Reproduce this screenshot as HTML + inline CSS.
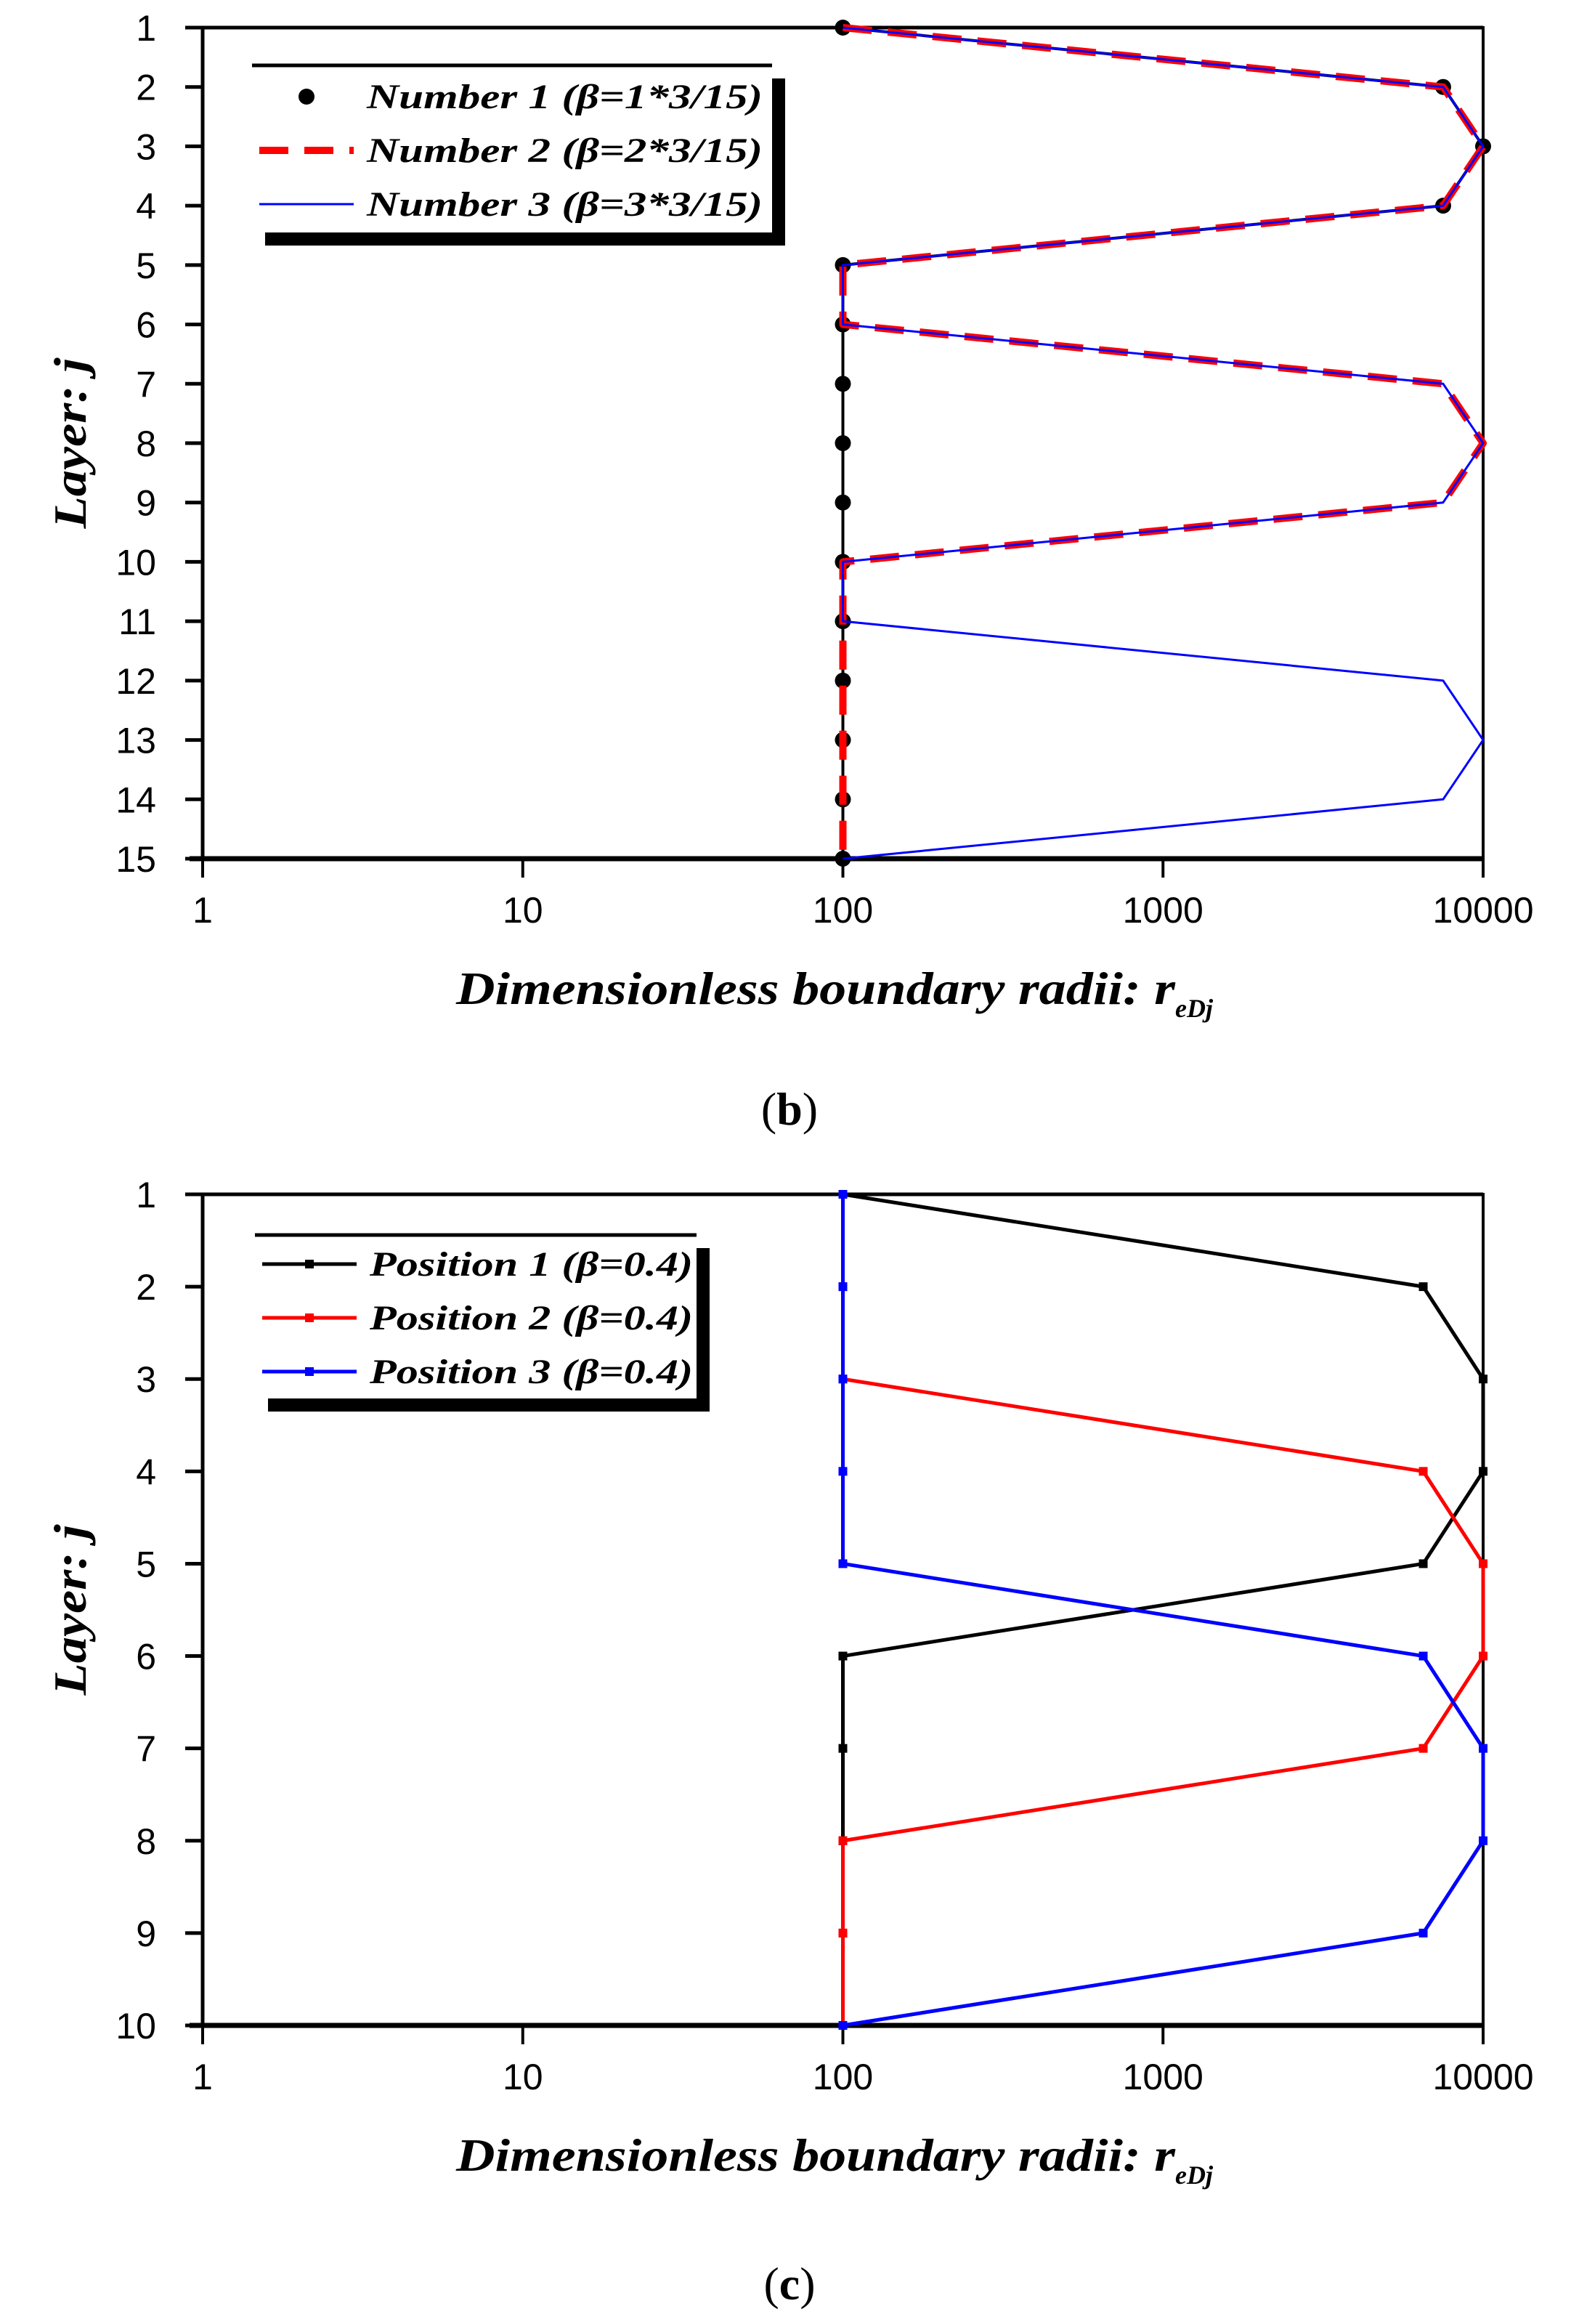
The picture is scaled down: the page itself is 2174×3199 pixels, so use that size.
<!DOCTYPE html>
<html><head><meta charset="utf-8"><style>
html,body{margin:0;padding:0;background:#fff}
svg{display:block}
text{font-family:"Liberation Sans",sans-serif}
.tk{font-size:50px;fill:#000}
.ttl{font-family:"Liberation Serif",serif;font-weight:bold;font-style:italic;font-size:64px}
.lg{font-family:"Liberation Serif",serif;font-weight:bold;font-style:italic;font-size:48px}
</style></head><body>
<svg id="fig" width="2174" height="3199" viewBox="0 0 2174 3199" xmlns="http://www.w3.org/2000/svg">
<g id="chartB"></g>
<g id="chartC"></g>
<text x="1087" y="1548" text-anchor="middle" style="font-family:'Liberation Serif',serif;font-size:64px">(<tspan font-weight="bold">b</tspan>)</text>
<text x="1087" y="3165" text-anchor="middle" style="font-family:'Liberation Serif',serif;font-size:64px">(<tspan font-weight="bold">c</tspan>)</text>
</svg>
<script>
// ---- data: chart (b)
const bLayers = [1,2,3,4,5,6,7,8,9,10,11,12,13,14,15];
const bNumber1 = [100,7500,10000,7500,100,100,100,100,100,100,100,100,100,100,100];
const bNumber2 = [100,7500,10000,7500,100,100,7500,10000,7500,100,100,100,100,100,100];
const bNumber3 = [100,7500,10000,7500,100,100,7500,10000,7500,100,100,7500,10000,7500,100];
const bLegend = ["Number 1 (β=1*3/15)","Number 2 (β=2*3/15)","Number 3 (β=3*3/15)"];
// ---- data: chart (c)
const cLayers = [1,2,3,4,5,6,7,8,9,10];
const cPosition1 = [100,6500,10000,10000,6500,100,100,100,100,100];
const cPosition2 = [100,100,100,6500,10000,10000,6500,100,100,100];
const cPosition3 = [100,100,100,100,100,6500,10000,10000,6500,100];
const cLegend = ["Position 1 (β=0.4)","Position 2 (β=0.4)","Position 3 (β=0.4)"];
const xTicks = [1,10,100,1000,10000];
const xTickLabels = ["1","10","100","1000","10000"];

const NS="http://www.w3.org/2000/svg";
function mk(tag,attrs,parent){const e=document.createElementNS(NS,tag);for(const k in attrs)e.setAttribute(k,attrs[k]);parent.appendChild(e);return e;}

function drawChart(g,cfg){
  const L=279,R=2042,T=cfg.top,B=cfg.bottom,n=cfg.layers.length;
  const xs=v=>L+(Math.log10(v)-0)/4*(R-L);
  const ys=l=>T+(l-1)/(n-1)*(B-T);
  const fr=mk('rect',{x:L,y:T,width:R-L,height:B-T,fill:'none',stroke:'#000','stroke-width':4},g);
  
  
  const ax=mk('line',{x1:L-18,y1:B,x2:R,y2:B,stroke:'#000','stroke-width':7},g);
  
  
  const ay=mk('line',{x1:L,y1:T,x2:L,y2:B,stroke:'#000','stroke-width':5},g);
  
  
  const at=mk('line',{x1:L-18,y1:T,x2:R,y2:T,stroke:'#000','stroke-width':5},g);
  
  
  cfg.layers.forEach(l=>{
    const y=ys(l);
    const t=mk('line',{x1:L-24,y1:y,x2:L,y2:y,stroke:'#000','stroke-width':5},g);
    
    
    const tx=mk('text',{x:215,y:y+18,'text-anchor':'end',class:'tk'},g);
    tx.textContent=String(l);
    
    
  });
  xTicks.forEach((v,i)=>{
    const x=xs(v);
    const t=mk('line',{x1:x,y1:B,x2:x,y2:B+26,stroke:'#000','stroke-width':4},g);
    
    
    const tx=mk('text',{x:x,y:B+88,'text-anchor':'middle',class:'tk'},g);
    tx.textContent=xTickLabels[i];
    
    
  });
  const xt=mk('text',{x:628,y:B+200,class:'ttl'},g);
  xt.innerHTML='<tspan textLength="990" lengthAdjust="spacingAndGlyphs">Dimensionless boundary radii: r</tspan><tspan font-size="36" dy="18">eDj</tspan>';
  
  
  const yc=(T+B)/2;
  const yt=mk('text',{x:0,y:0,'text-anchor':'middle',class:'ttl',transform:`translate(118,${yc}) rotate(-90)`,textLength:235,lengthAdjust:'spacingAndGlyphs'},g);
  yt.textContent='Layer: j';
  
  
  cfg.series.forEach(s=>{
    const pts=s.vals.map((v,i)=>xs(v)+','+ys(cfg.layers[i])).join(' ');
    const pl=mk('polyline',{points:pts,fill:'none',stroke:s.color,'stroke-width':s.w,'stroke-dasharray':s.dash||'none','stroke-linejoin':'round'},g);
    
    
    if(s.marker){
      s.vals.forEach((v,i)=>{
        const m=s.marker==='circle'?mk('circle',{cx:xs(v),cy:ys(cfg.layers[i]),r:11,fill:s.color},g)
          :mk('rect',{x:xs(v)-6,y:ys(cfg.layers[i])-6,width:12,height:12,fill:s.color},g);
        
        
      });
    }
  });
  const lg=cfg.legend;
  const lgG=mk('g',{},g);
  
  
  mk('rect',{x:lg.x+18,y:lg.y+18,width:lg.w,height:lg.h,fill:'#000'},lgG);
  mk('rect',{x:lg.x,y:lg.y,width:lg.w,height:lg.h,fill:'#fff'},lgG);
  mk('line',{x1:lg.x,y1:lg.y,x2:lg.x+lg.w,y2:lg.y,stroke:'#000','stroke-width':5},lgG);
  cfg.series.forEach((s,i)=>{
    const y=lg.rows[i];
    const e=mk('g',{},lgG);
    
    
    if(s.marker==='circle'){mk('circle',{cx:lg.x+75,cy:y,r:11,fill:s.color},e);}
    else{
      mk('line',{x1:lg.x+10,y1:y,x2:lg.x+140,y2:y,stroke:s.color,'stroke-width':s.w,'stroke-dasharray':s.dash||'none'},e);
      if(s.marker) mk('rect',{x:lg.x+69,y:y-6,width:12,height:12,fill:s.color},e);
    }
    const t=mk('text',{x:lg.x+158,y:y+16,class:'lg',textLength:lg.tl,lengthAdjust:'spacingAndGlyphs'},e);
    t.textContent=cfg.legendText[i];
  });
}

drawChart(document.getElementById('chartB'),{
  top:38,bottom:1182,layers:bLayers,legendText:bLegend,
  legend:{x:347,y:90,w:716,h:230,rows:[133,207,281],tl:545},
  series:[
    {name:'number-1',vals:bNumber1,color:'#000',w:4,marker:'circle'},
    {name:'number-2',vals:bNumber2,color:'#f00',w:10,dash:'40 22'},
    {name:'number-3',vals:bNumber3,color:'#00f',w:3}
  ]
});
drawChart(document.getElementById('chartC'),{
  top:1644,bottom:2788,layers:cLayers,legendText:cLegend,
  legend:{x:351,y:1700,w:608,h:225,rows:[1740,1814,1888],tl:445},
  series:[
    {name:'position-1',vals:cPosition1,color:'#000',w:5,marker:'square'},
    {name:'position-2',vals:cPosition2,color:'#f00',w:5,marker:'square'},
    {name:'position-3',vals:cPosition3,color:'#00f',w:5,marker:'square'}
  ]
});
</script>
</body></html>
